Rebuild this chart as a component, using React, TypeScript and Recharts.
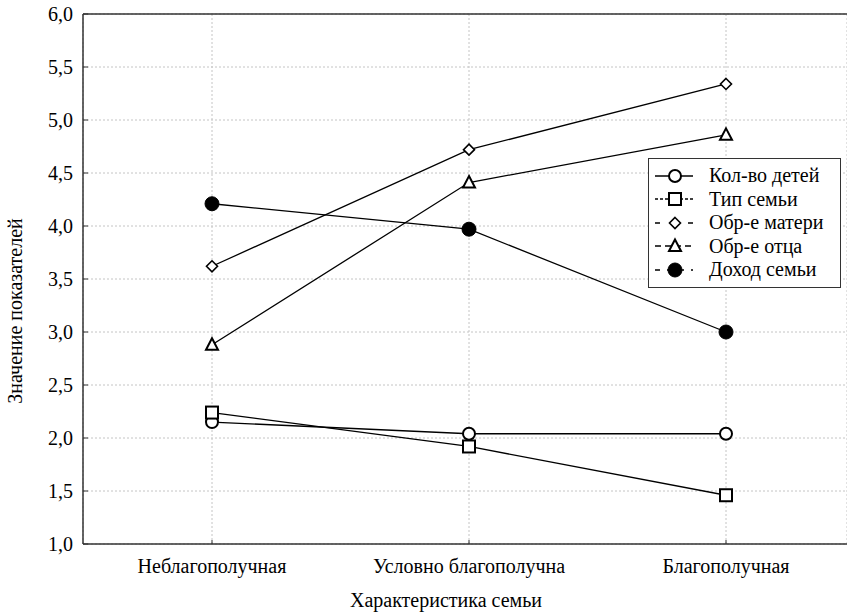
import React from 'react';
import {
    LineChart,
    Line,
    XAxis,
    YAxis,
    CartesianGrid,
    Legend,
    ReferenceLine,
    Label
} from 'recharts';

const FONT =
    "'Liberation Serif', 'Times New Roman', 'Nimbus Roman', 'Nimbus Roman No9 L', FreeSerif, 'Noto Serif', 'DejaVu Serif', 'Noto Serif CJK SC', 'Noto Serif CJK JP', Georgia, serif";

// categories and values
const categories = ['Неблагополучная', 'Условно благополучна', 'Благополучная'];
const kidsCount = [2.15, 2.04, 2.04];
const familyType = [2.24, 1.92, 1.46];
const motherEdu = [3.62, 4.72, 5.34];
const fatherEdu = [2.88, 4.41, 4.86];
const familyIncome = [4.21, 3.97, 3.0];

const yMajorTicks = [1, 1.5, 2, 2.5, 3, 3.5, 4, 4.5, 5, 5.5, 6];
const yMinorTicks = Array.from({ length: 51 }, (_, i) => Math.round((1 + i * 0.1) * 10) / 10);

const series = [
    { key: 'kids', name: 'Кол-во детей', shape: 'circle', dash: undefined },
    { key: 'type', name: 'Тип семьи', shape: 'square', dash: '3 2' },
    { key: 'mother', name: 'Обр-е матери', shape: 'diamond', dash: '5 28' },
    { key: 'father', name: 'Обр-е отца', shape: 'triangle', dash: '6 4' },
    { key: 'income', name: 'Доход семьи', shape: 'filled', dash: '5 7' },
];

const data = categories.map((name, i) => ({
    name,
    kids: kidsCount[i],
    type: familyType[i],
    mother: motherEdu[i],
    father: fatherEdu[i],
    income: familyIncome[i],
}));

const Marker = ({ shape, cx, cy }: { shape: string; cx: number; cy: number }) => {
    switch (shape) {
        case 'circle':
            return <circle cx={cx} cy={cy} r={6} fill="#fff" stroke="#000" strokeWidth={2} />;
        case 'square':
            return <rect x={cx - 6} y={cy - 6} width={12} height={12} fill="#fff" stroke="#000" strokeWidth={2} />;
        case 'diamond':
            return (
                <polygon
                    points={`${cx},${cy - 5.5} ${cx + 5.5},${cy} ${cx},${cy + 5.5} ${cx - 5.5},${cy}`}
                    fill="#fff" stroke="#000" strokeWidth={1.6}
                />
            );
        case 'triangle':
            return (
                <polygon
                    points={`${cx},${cy - 6.5} ${cx + 6},${cy + 5} ${cx - 6},${cy + 5}`}
                    fill="#fff" stroke="#000" strokeWidth={2}
                />
            );
        default:
            return <circle cx={cx} cy={cy} r={7} fill="#000" stroke="#000" strokeWidth={1} />;
    }
};

const makeDot = (shape: string) => (props: any) => {
    const { cx, cy, index } = props;
    if (cx == null || cy == null) return <g key={`${shape}-${index}`} />;
    return (
        <g key={`${shape}-${index}`}>
            <Marker shape={shape} cx={cx} cy={cy} />
        </g>
    );
};

const textStyle = { fontFamily: FONT, fontSize: 20 };

const XTick = (props: any) => {
    const { x, y, payload } = props;
    return (
        <g>
            <line x1={x} y1={y} x2={x} y2={y - 4} stroke="#333" strokeWidth={1} />
            <text x={x} y={y + 29} textAnchor="middle" style={textStyle} fill="#000">
                {payload.value}
            </text>
        </g>
    );
};

const YTick = (props: any) => {
    const { x, y, payload } = props;
    return (
        <g>
            <line x1={x} y1={y} x2={x + 5} y2={y} stroke="#333" strokeWidth={1} />
            <text x={x - 10} y={y + 7} textAnchor="end" style={textStyle} fill="#000">
                {Number(payload.value).toFixed(1).replace('.', ',')}
            </text>
        </g>
    );
};

const LegendBox = () => (
    <div
        style={{
            border: '1.5px solid #333',
            background: '#fff',
            width: 193,
            height: 130,
            boxSizing: 'border-box',
            paddingTop: 5,
            fontFamily: FONT,
            fontSize: 20,
            color: '#000',
        }}
    >
        {series.map((s) => (
            <div key={s.key} style={{ display: 'flex', alignItems: 'center', height: 23.5, lineHeight: '23.5px' }}>
                <svg width={60} height={20} style={{ flex: 'none' }}>
                    <line x1={6} x2={44} y1={10} y2={10} stroke="#000" strokeWidth={1.3} strokeDasharray={s.dash} />
                    <Marker shape={s.shape} cx={26} cy={10} />
                </svg>
                <span style={{ whiteSpace: 'nowrap' }}>{s.name}</span>
            </div>
        ))}
    </div>
);

const App: React.FC = () => {
    return (
        <div style={{ position: 'absolute', left: 0, top: 0, background: '#fff', fontFamily: FONT }}>
            <LineChart
                width={847}
                height={614}
                data={data}
                margin={{ top: 14, right: 0, bottom: 0, left: 0 }}
                style={{ fontFamily: FONT }}
            >
                <CartesianGrid stroke="#c4c4c4" strokeDasharray="2 2" yAxisId={0} />
                <XAxis
                    dataKey="name"
                    scale="point"
                    padding={{ left: 129, right: 121 }}
                    height={70}
                    tickSize={0}
                    tickMargin={0}
                    tickLine={false}
                    tick={<XTick />}
                    axisLine={{ stroke: '#333', strokeWidth: 1.5 }}
                    interval={0}
                >
                    <Label
                        content={() => (
                            <text x={446} y={607} textAnchor="middle" style={textStyle} fill="#000">
                                Характеристика семьи
                            </text>
                        )}
                    />
                </XAxis>
                <YAxis
                    yAxisId={0}
                    domain={[1, 6]}
                    ticks={yMajorTicks}
                    width={83}
                    tickSize={0}
                    tickMargin={0}
                    tickLine={false}
                    tick={<YTick />}
                    axisLine={{ stroke: '#333', strokeWidth: 1.5 }}
                    interval={0}
                    allowDataOverflow
                >
                    <Label
                        content={() => (
                            <text
                                x={15}
                                y={311}
                                transform="rotate(-90 15 311)"
                                textAnchor="middle"
                                dominantBaseline="central"
                                style={textStyle}
                                fill="#000"
                            >
                                Значение показателей
                            </text>
                        )}
                    />
                </YAxis>
                <YAxis
                    yAxisId="minor"
                    domain={[1, 6]}
                    ticks={yMinorTicks}
                    mirror
                    width={0}
                    tickSize={3}
                    tick={false}
                    tickLine={{ stroke: '#333' }}
                    axisLine={false}
                    interval={0}
                    allowDataOverflow
                />
                <ReferenceLine y={6} yAxisId={0} stroke="#333" strokeWidth={1.5} />
                <Legend
                    layout="vertical"
                    align="center"
                    verticalAlign="middle"
                    content={<LegendBox />}
                    wrapperStyle={{ position: 'absolute', left: 648, top: 158, width: 193, height: 130 }}
                />
                {series.map((s) => (
                    <Line
                        key={s.key}
                        yAxisId={0}
                        dataKey={s.key}
                        name={s.name}
                        type="linear"
                        stroke="#000"
                        strokeWidth={1.3}
                        dot={makeDot(s.shape)}
                        activeDot={false}
                        isAnimationActive={false}
                    />
                ))}
            </LineChart>
        </div>
    );
};

export default App;
